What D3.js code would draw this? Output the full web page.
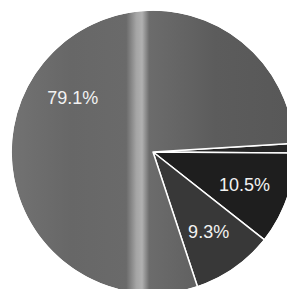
<!DOCTYPE html>
<html>
<head>
<meta charset="utf-8">
<script src="https://cdn.jsdelivr.net/npm/d3@7"></script>
<style>
  body { margin: 0; background: #ffffff; }
</style>
</head>
<body>
<div id="chart"></div>
<script>
var values = [1.1, 10.5, 9.3, 79.1];
var labels = ["", "10.5%", "9.3%", "79.1%"];
var colors = ["#262626", "#1e1e1e", "#383838", "url(#stripe)"];

var width = 287, height = 289;
var cx = 153, cy = 152, radius = 142;
var start = 86.5 * Math.PI / 180;

var svg = d3.select("#chart")
    .append("svg")
    .attr("width", width)
    .attr("height", height);

// lighter vertical band from the scan (coords are relative to the pie centre)
var grad = svg.append("defs").append("linearGradient")
    .attr("id", "stripe")
    .attr("gradientUnits", "userSpaceOnUse")
    .attr("x1", -cx).attr("y1", 0)
    .attr("x2", width - cx).attr("y2", 0);
var stops = [[0, "#747474"], [0.25, "#676767"], [0.44, "#6a6a6a"], [0.475, "#a5a5a5"],
             [0.495, "#b0b0b0"], [0.52, "#6c6c6c"], [0.75, "#5c5c5c"], [1, "#585858"]];
stops.forEach(function (s) {
    grad.append("stop").attr("offset", s[0]).attr("stop-color", s[1]);
});

var pie = d3.pie()
    .sort(null)
    .startAngle(start)
    .endAngle(start + 2 * Math.PI);

var arc = d3.arc().innerRadius(0).outerRadius(radius);
var labelArc = d3.arc().innerRadius(97).outerRadius(97);

var g = svg.append("g")
    .attr("transform", "translate(" + cx + "," + cy + ")");

var slices = g.selectAll("path")
    .data(pie(values))
    .enter();

slices.append("path")
    .attr("d", arc)
    .attr("fill", function (d, i) { return colors[i]; })
    .attr("stroke", "#ffffff")
    .attr("stroke-width", 1.5)
    .attr("stroke-linejoin", "round");

// outer rim has no border
g.append("circle")
    .attr("r", radius)
    .attr("fill", "none")
    .attr("stroke", "#ffffff")
    .attr("stroke-width", 1.6);

slices.append("text")
    .attr("transform", function (d) {
        var c = labelArc.centroid(d);
        return "translate(" + c[0] + "," + c[1] + ")";
    })
    .attr("text-anchor", "middle")
    .attr("dy", "0.36em")
    .attr("font-family", "Liberation Sans, Arial, sans-serif")
    .attr("font-size", "18px")
    .attr("fill", "#f2f2f2")
    .text(function (d, i) { return labels[i]; });
</script>
</body>
</html>
